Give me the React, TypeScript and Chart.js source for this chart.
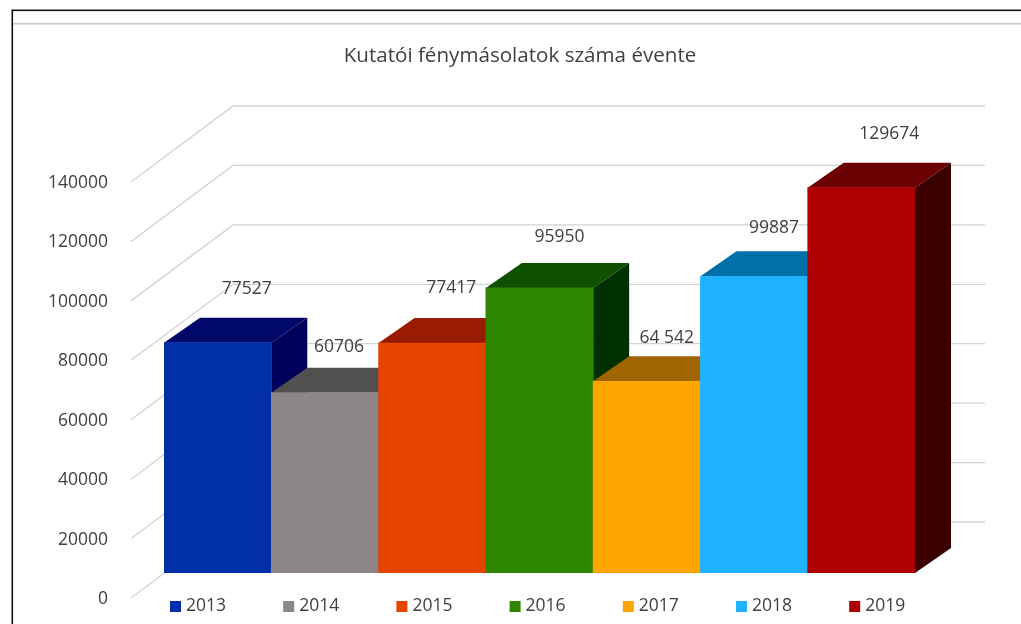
import React, { useEffect, useRef } from "react";
import { Chart, registerables } from "chart.js";

Chart.register(...registerables);

const years = ["2013", "2014", "2015", "2016", "2017", "2018", "2019"];
const values = [77527, 60706, 77417, 95950, 64542, 99887, 129674];
const valueLabels = ["77527", "60706", "77417", "95950", "64 542", "99887", "129674"];
const frontColors = ["#002fa7", "#8c8686", "#e64500", "#2e8500", "#ffa500", "#1fb2ff", "#ae0000"];
const topColors = ["#00086a", "#52504e", "#991b00", "#0f4f00", "#a06400", "#0070a8", "#6a0000"];
const sideColors = ["#00005a", "#3a3836", "#6e1300", "#003000", "#704600", "#004f78", "#3a0000"];
const labelShiftX = [29, 14, 19, 20, 20, 20, 28];
const labelShiftY = [-54, -46, -55, -51, -43, -48, -54];

const FONT = '"Open Sans", sans-serif';
const TEXT = "#404040";
const GRID = "#d2d2d2";

const decoration = {
  id: "decoration",
  afterLayout(chart: any) {
    chart.titleBlock.left = 125;
  },
  beforeDatasetsDraw(chart: any) {
    const { ctx, chartArea, scales } = chart;
    const y = scales.y;
    const wallLeft = chartArea.left + 69;
    ctx.save();
    // frame
    ctx.fillStyle = "#111111";
    ctx.fillRect(12, 9.5, 1009, 1.6);
    ctx.fillRect(11.5, 9.5, 1.6, 614.5);
    ctx.fillStyle = "#c8c8c8";
    ctx.fillRect(13, 23, 1008, 1.5);
    // walls of the 3D box
    ctx.strokeStyle = GRID;
    ctx.lineWidth = 1.3;
    y.ticks.forEach((t: any) => {
      const py = y.getPixelForValue(t.value);
      ctx.beginPath();
      ctx.moveTo(chartArea.left - 33, py + 25);
      ctx.lineTo(wallLeft, py - 51);
      ctx.lineTo(985, py - 51);
      ctx.stroke();
    });
    // top and side faces of the bars
    const dx = 36;
    const dy = 25;
    chart.getDatasetMeta(0).data.forEach((bar: any, i: number) => {
      const l = bar.x - bar.width / 2;
      const r = bar.x + bar.width / 2;
      ctx.fillStyle = sideColors[i];
      ctx.beginPath();
      ctx.moveTo(r, bar.y);
      ctx.lineTo(r + dx, bar.y - dy);
      ctx.lineTo(r + dx, bar.base - dy);
      ctx.lineTo(r, bar.base);
      ctx.closePath();
      ctx.fill();
      ctx.fillStyle = topColors[i];
      ctx.beginPath();
      ctx.moveTo(l, bar.y);
      ctx.lineTo(l + dx, bar.y - dy);
      ctx.lineTo(r + dx, bar.y - dy);
      ctx.lineTo(r, bar.y);
      ctx.closePath();
      ctx.fill();
    });
    ctx.restore();
  },
  afterDatasetsDraw(chart: any) {
    const { ctx } = chart;
    ctx.save();
    ctx.font = `17.5px ${FONT}`;
    ctx.fillStyle = TEXT;
    ctx.textAlign = "center";
    ctx.textBaseline = "middle";
    chart.getDatasetMeta(0).data.forEach((bar: any, i: number) => {
      ctx.fillText(valueLabels[i], bar.x + labelShiftX[i], bar.y + labelShiftY[i]);
    });
    // legend
    ctx.textAlign = "left";
    years.forEach((label, i) => {
      const x = 170 + i * 113.2;
      ctx.fillStyle = frontColors[i];
      ctx.fillRect(x, 601, 11, 11);
      ctx.fillStyle = TEXT;
      ctx.fillText(label, x + 16, 606.5);
    });
    ctx.restore();
  },
};

export default function App() {
  const ref = useRef<HTMLCanvasElement>(null);
  useEffect(() => {
    document.body.style.margin = "0";
    const chart = new Chart(ref.current as HTMLCanvasElement, {
      type: "bar",
      data: {
        labels: years,
        datasets: [
          {
            data: values,
            backgroundColor: frontColors,
            borderWidth: 0,
            barPercentage: 1,
            categoryPercentage: 1,
          },
        ],
      },
      options: {
        animation: false,
        responsive: false,
        layout: { autoPadding: false, padding: { left: 44, right: 106, top: 0, bottom: 51 } },
        plugins: {
          legend: { display: false },
          tooltip: { enabled: false },
          title: {
            display: true,
            text: "Kutatói fénymásolatok száma évente",
            color: TEXT,
            font: { family: FONT, size: 20.6, weight: "normal" },
            padding: { top: 44, bottom: 88.3 },
          },
        },
        scales: {
          x: { display: false },
          y: {
            min: 0,
            max: 140000,
            afterFit(scale: any) {
              scale.width = 120;
              scale.paddingTop = 0;
              scale.paddingBottom = 0;
            },
            grid: { display: false, drawTicks: false },
            border: { display: false },
            ticks: {
              stepSize: 20000,
              autoSkip: false,
              color: TEXT,
              padding: 56,
              labelOffset: 26,
              font: { family: FONT, size: 17.5 },
              callback: (value: any) => String(value),
            },
          },
        },
      },
      plugins: [decoration],
    } as any);
    return () => chart.destroy();
  }, []);
  return (
    <div style={{ position: "absolute", left: 0, top: 0, width: 1021, height: 624, background: "#fff", overflow: "hidden" }}>
      <canvas ref={ref} width={1021} height={624} style={{ display: "block", filter: "blur(0.5px)" }} />
    </div>
  );
}
